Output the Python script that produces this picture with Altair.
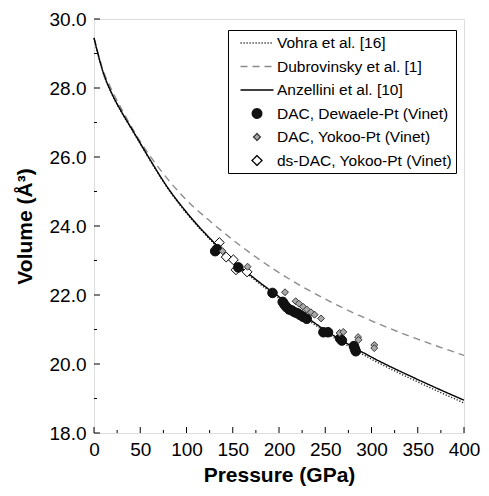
import altair as alt
import pandas as pd

# ---- data ----
P_grid = [0, 10, 20, 30, 40, 50, 60, 80, 100, 125, 150, 175, 200, 250, 300, 350, 400]
V_vohra = [29.45, 28.43, 27.78, 27.28, 26.83, 26.38, 25.93, 25.08, 24.37, 23.62, 22.97, 22.41, 21.90, 20.93, 20.14, 19.48, 18.87]
V_dubrovinsky = [29.45, 28.50, 27.90, 27.38, 26.90, 26.45, 26.05, 25.35, 24.75, 24.15, 23.60, 23.10, 22.65, 21.88, 21.25, 20.72, 20.25]
V_anzellini = [29.45, 28.45, 27.80, 27.30, 26.85, 26.40, 25.95, 25.10, 24.40, 23.65, 23.00, 22.45, 21.95, 20.98, 20.20, 19.55, 18.95]

dewaele_P = [131, 133, 156, 193, 204, 206, 208, 211, 214, 217, 220, 223, 226, 230, 248, 253, 266, 268, 281, 282, 283]
dewaele_V = [23.27, 23.33, 22.80, 22.06, 21.80, 21.72, 21.65, 21.58, 21.55, 21.50, 21.47, 21.42, 21.37, 21.31, 20.92, 20.92, 20.74, 20.68, 20.52, 20.44, 20.37]

yokoo_P = [139, 166, 206.5, 218, 221.5, 226, 230, 234.5, 238.5, 245.5, 265.5, 269.5, 285.5, 286, 303, 303]
yokoo_V = [23.27, 22.82, 22.08, 21.82, 21.75, 21.66, 21.58, 21.50, 21.43, 21.32, 20.90, 20.93, 20.78, 20.70, 20.55, 20.46]

ds_P = [135.5, 142.9, 150.7, 153.5, 165.5]
ds_V = [23.52, 23.10, 23.02, 22.73, 22.67]

series = [
    "Vohra et al. [16]",
    "Dubrovinsky et al. [1]",
    "Anzellini et al. [10]",
    "DAC, Dewaele-Pt (Vinet)",
    "DAC, Yokoo-Pt (Vinet)",
    "ds-DAC, Yokoo-Pt (Vinet)",
]

x_major = [0, 50, 100, 150, 200, 250, 300, 350, 400]
x_minor = [25, 75, 125, 175, 225, 275, 325, 375]
y_major = [18, 20, 22, 24, 26, 28, 30]
y_minor = [19, 21, 23, 25, 27, 29]

# ---- tables ----
line_rows = []
for name, vals in zip(series[:3], [V_vohra, V_dubrovinsky, V_anzellini]):
    for p, v in zip(P_grid, vals):
        line_rows.append({"P": p, "V": v, "series": name})
lines_df = pd.DataFrame(line_rows)

pt_rows = []
for name, ps, vs in [(series[5], ds_P, ds_V), (series[3], dewaele_P, dewaele_V), (series[4], yokoo_P, yokoo_V)]:
    for p, v in zip(ps, vs):
        pt_rows.append({"P": p, "V": v, "series": name})
points_df = pd.DataFrame(pt_rows)

FONT = "Liberation Sans"

# ---- scales / styles ----
stroke_scale = alt.Scale(domain=series, range=["#222222", "#8c8c8c", "#000000", "#111111", "#3a3a3a", "#000000"])
fill_scale = alt.Scale(domain=series, range=["transparent", "transparent", "transparent", "#111111", "#a9a9a9", "#ffffff"])
dash_scale = alt.Scale(domain=series, range=[[1.2, 1.8], [7, 5], [1, 0], [1, 0], [1, 0], [1, 0]])
circle_path = "M-0.58,0A0.58,0.58 0 1,0 0.58,0A0.58,0.58 0 1,0 -0.58,0Z"
shape_scale = alt.Scale(domain=series, range=[
    "M-2,0L2,0", "M-2,0L2,0", "M-2,0L2,0",
    circle_path,
    "M-0.42,0L0,0.42L0.42,0L0,-0.42Z",
    "M-0.6,0L0,0.6L0.6,0L0,-0.6Z",
])

leg = alt.Legend(
    title=None, orient="none", legendX=134, legendY=11,
    padding=4, symbolOffset=16, labelOffset=11, rowPadding=5.5,
    labelFont=FONT, labelFontSize=15.5, labelColor="black", labelLimit=400,
    strokeColor="black", fillColor="white", symbolSize=272, symbolStrokeWidth=1.3,
)

x_axis = alt.Axis(values=x_major, ticks=False, domain=False, grid=False, labelFontSize=19,
                  labelFont=FONT, labelColor="black", labelPadding=7, labelFlush=False,
                  title="Pressure (GPa)", titleFont=FONT, titleFontSize=21, titleFontWeight="bold",
                  titleColor="black", titlePadding=5)
y_axis = alt.Axis(values=y_major, format=".1f", ticks=False, domain=False, grid=False, labelFontSize=19,
                  labelFont=FONT, labelColor="black", labelPadding=8,
                  title="Volume (Å³)", titleFont=FONT, titleFontSize=21, titleFontWeight="bold",
                  titleColor="black", titlePadding=14)
x_scale = alt.Scale(domain=[0, 400], nice=False)
y_scale = alt.Scale(domain=[18, 30], nice=False, zero=False)

X = alt.X("P:Q", scale=x_scale, axis=x_axis)
Y = alt.Y("V:Q", scale=y_scale, axis=y_axis)

lines = alt.Chart(lines_df).mark_line(strokeWidth=1.4, interpolate="monotone").encode(
    x=X, y=Y,
    stroke=alt.Stroke("series:N", scale=stroke_scale, legend=leg),
    strokeDash=alt.StrokeDash("series:N", scale=dash_scale, legend=leg),
)

points = alt.Chart(points_df).mark_point(size=272, opacity=1, strokeWidth=1, filled=False).encode(
    x=X, y=Y,
    shape=alt.Shape("series:N", scale=shape_scale, legend=leg),
    fill=alt.Fill("series:N", scale=fill_scale, legend=leg),
    stroke=alt.Stroke("series:N", scale=stroke_scale, legend=leg),
)

def xticks(vals, length):
    return alt.Chart(pd.DataFrame({"P": vals})).mark_rule(color="black", strokeWidth=1, y2Offset=-length).encode(
        x=alt.X("P:Q", scale=x_scale, axis=x_axis), y=alt.datum(18), y2=alt.datum(18))

def yticks(vals, length):
    return alt.Chart(pd.DataFrame({"V": vals})).mark_rule(color="black", strokeWidth=1, x2Offset=length).encode(
        y=alt.Y("V:Q", scale=y_scale, axis=y_axis), x=alt.datum(0), x2=alt.datum(0))

chart = alt.layer(
    lines, points,
    xticks(x_major, 6), xticks(x_minor, 3), yticks(y_major, 6), yticks(y_minor, 3),
).properties(
    width=370, height=414,
    autosize=alt.AutoSizeParams(type="none"),
    padding={"left": 86, "top": 11, "right": 17, "bottom": 55},
).configure_view(stroke="black", strokeWidth=1.5).configure(background="white")

chart.save("out.html", embed_options={"renderer": "svg", "actions": False})
